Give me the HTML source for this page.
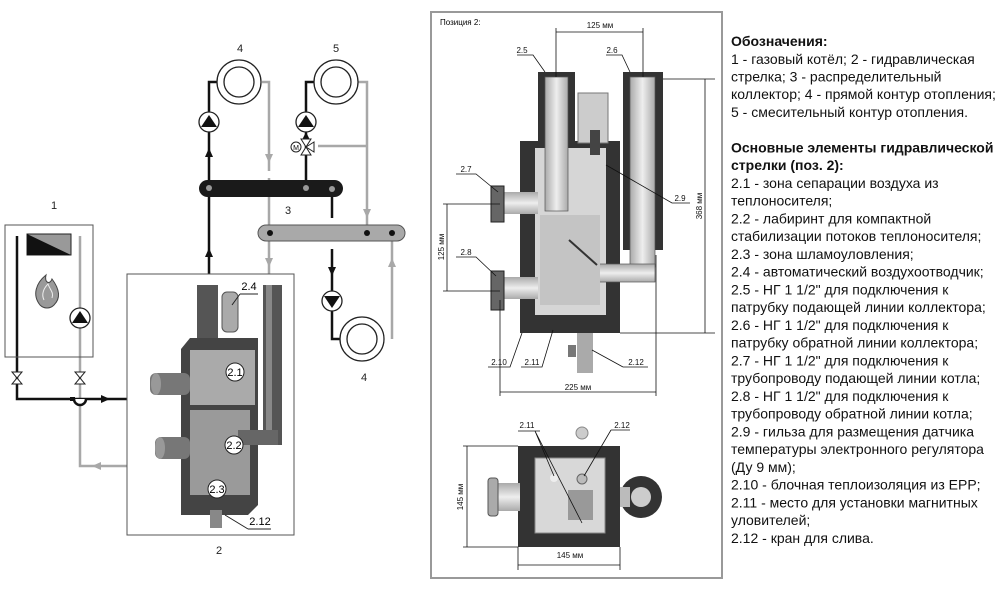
<!DOCTYPE html>
<html><head><meta charset="utf-8"><style>
html,body{margin:0;padding:0;background:#fff}
svg{display:block}
text{font-family:"Liberation Sans",sans-serif}
</style></head><body>
<svg width="1006" height="591" viewBox="0 0 1006 591" xmlns="http://www.w3.org/2000/svg">
<defs>
<linearGradient id="pg" x1="0" x2="1" y1="0" y2="0"><stop offset="0" stop-color="#aaa"/><stop offset="0.5" stop-color="#eee"/><stop offset="1" stop-color="#aaa"/></linearGradient>
<linearGradient id="pgv" x1="0" x2="0" y1="0" y2="1"><stop offset="0" stop-color="#aaa"/><stop offset="0.5" stop-color="#eee"/><stop offset="1" stop-color="#aaa"/></linearGradient>
</defs>

<!-- ========== LEFT SCHEMATIC ========== -->
<g fill="none" stroke-width="2.5">
<g stroke="#a8a8a8">
<path d="M262,82 H269 V171"/><path d="M269,178 V274"/>
<path d="M358,82 H367 V233"/><path d="M367,146 H318"/>
<path d="M392,339 V233"/>
<path d="M80,236 V466 H127"/>
</g>
<g stroke="#111">
<path d="M217,82 H209 V274"/>
<path d="M315,82 H306 V189"/>
<path d="M332,189 V218"/><path d="M332,249 V339 H340"/>
<path d="M17,236 V399 H127"/>
</g>
</g>
<g fill="#111"><path d="M209,148 l-4,9 h8z"/><path d="M209,248 l-4,9 h8z"/><path d="M306,132 l-4,8 h8z" /><path d="M332,276 l-4,-9 h8z"/><path d="M110,399 l-9,-4 v8z"/></g>
<g fill="#a8a8a8"><path d="M269,163 l-4,-9 h8z"/><path d="M269,267 l-4,-9 h8z"/><path d="M367,218 l-4,-9 h8z"/><path d="M392,258 l-4,9 h8z"/><path d="M92,466 l9,-4 v8z"/></g>
<path d="M74,399 a6,6 0 0 0 12,0" fill="#fff" stroke="#111" stroke-width="2.5"/>
<rect x="70" y="397" width="5" height="4" fill="#111"/>
<g fill="#fff" stroke="#222" stroke-width="1.3">
<circle cx="239" cy="82" r="22"/><circle cx="239" cy="82" r="15"/>
<circle cx="336" cy="82" r="22"/><circle cx="336" cy="82" r="15"/>
<circle cx="362" cy="339" r="22"/><circle cx="362" cy="339" r="15"/>
<circle cx="209" cy="122" r="10"/><circle cx="306" cy="122" r="10"/>
<circle cx="332" cy="301" r="10"/><circle cx="80" cy="318" r="10"/>
</g>
<g fill="#111"><path d="M201,127 h16 l-8,-12z"/><path d="M298,127 h16 l-8,-12z"/><path d="M324,296 h16 l-8,12z"/><path d="M72,323 h16 l-8,-12z"/></g>
<g stroke="#222" stroke-width="1" fill="#fff">
<path d="M306,147 l-5,-8 h10z"/><path d="M306,147 l-5,8 h10z"/><path d="M306,147 l8,-5 v10z"/>
<circle cx="296" cy="147" r="5"/>
</g>
<text x="296" y="150" font-size="7" text-anchor="middle">M</text>
<rect x="199" y="180" width="144" height="17" rx="8.5" fill="#1a1a1a"/>
<rect x="258" y="225" width="147" height="16" rx="8" fill="#a9a9a9" stroke="#555" stroke-width="1"/>
<g fill="#999"><circle cx="209" cy="188" r="3"/><circle cx="306" cy="188" r="3"/><circle cx="332" cy="189" r="3"/></g>
<g fill="#111"><circle cx="270" cy="233" r="3"/><circle cx="367" cy="233" r="3"/><circle cx="392" cy="233" r="3"/></g>
<rect x="5" y="225" width="88" height="132" fill="none" stroke="#555" stroke-width="1"/>
<path d="M27,234 H71 V255 H27z" fill="#999" stroke="#222"/>
<path d="M27,234 L71,255 H27z" fill="#111"/>
<path d="M40,305 c-8,-10 -4,-22 6,-30 c-2,8 4,10 6,4 c6,8 10,18 2,26 c-4,4 -10,4 -14,0z" fill="#999" stroke="#444" stroke-width="1"/>
<path d="M44,300 c-3,-6 0,-12 4,-16 c2,6 6,8 4,14" fill="none" stroke="#eee" stroke-width="1"/>
<g fill="#fff" stroke="#222" stroke-width="1"><path d="M12,372 h10 l-10,12 h10z"/><path d="M75,372 h10 l-10,12 h10z"/></g>
<rect x="127" y="274" width="167" height="261" fill="#fff" stroke="#555" stroke-width="1"/>
<g>
<rect x="197" y="285" width="21" height="70" fill="#555"/>
<rect x="263" y="285" width="19" height="160" fill="#555"/>
<rect x="266" y="285" width="6" height="160" fill="#888"/>
<rect x="222" y="292" width="16" height="40" rx="5" fill="#aaa" stroke="#555"/>
<path d="M181,349 L190,338 H258 V505 L248,515 H181z" fill="#444"/>
<rect x="190" y="350" width="65" height="55" fill="#aaa"/>
<rect x="190" y="410" width="60" height="85" fill="#9a9a9a"/>
<rect x="150" y="373" width="40" height="22" rx="6" fill="#777"/>
<ellipse cx="156" cy="384" rx="5" ry="11" fill="#999"/>
<rect x="155" y="437" width="35" height="22" rx="6" fill="#777"/>
<ellipse cx="160" cy="448" rx="5" ry="11" fill="#999"/>
<rect x="238" y="430" width="40" height="15" fill="#666"/>
<rect x="210" y="510" width="12" height="18" fill="#888"/>
</g>
<g font-size="11" text-anchor="middle">
<circle cx="235" cy="372" r="9" fill="#fff" stroke="#222"/><text x="235" y="376">2.1</text>
<circle cx="234" cy="445" r="9" fill="#fff" stroke="#222"/><text x="234" y="449">2.2</text>
<circle cx="217" cy="489" r="9" fill="#fff" stroke="#222"/><text x="217" y="493">2.3</text>
<text x="249" y="290">2.4</text><path d="M240,294 H258 M240,294 L232,305" stroke="#222" fill="none"/>
<text x="260" y="525">2.12</text><path d="M248,529 H271 M248,529 L225,515" stroke="#222" fill="none"/>
</g>
<g font-size="11" text-anchor="middle" fill="#222">
<text x="240" y="52">4</text><text x="336" y="52">5</text><text x="288" y="214">3</text>
<text x="54" y="209">1</text><text x="219" y="554">2</text><text x="364" y="381">4</text>
</g>

<!-- ========== MIDDLE DRAWING ========== -->
<rect x="431" y="12" width="291" height="566" fill="#fff" stroke="#999" stroke-width="2"/>
<text x="440" y="25" font-size="8">Позиция 2:</text>
<rect x="520" y="141" width="100" height="192" fill="#333"/>
<rect x="535" y="148" width="71" height="167" fill="#d6d6d6"/>
<rect x="538" y="72" width="37" height="75" fill="#333"/>
<rect x="623" y="72" width="40" height="178" fill="#333"/>
<rect x="578" y="93" width="30" height="50" fill="#ccc" stroke="#777"/>
<rect x="590" y="130" width="10" height="25" fill="#444"/>
<rect x="545" y="77" width="23" height="134" fill="url(#pg)" stroke="#555" stroke-width="0.7"/>
<rect x="630" y="77" width="25" height="190" fill="url(#pg)" stroke="#555" stroke-width="0.7"/>
<rect x="596" y="264" width="59" height="18" fill="url(#pgv)" stroke="#555" stroke-width="0.7"/>
<rect x="540" y="215" width="60" height="90" fill="#c4c4c4"/>
<rect x="500" y="192" width="38" height="22" fill="url(#pgv)"/>
<rect x="500" y="277" width="38" height="22" fill="url(#pgv)"/>
<rect x="491" y="186" width="13" height="36" fill="#666" stroke="#222"/>
<rect x="491" y="271" width="13" height="39" fill="#666" stroke="#222"/>
<rect x="577" y="333" width="16" height="40" fill="#aaa"/>
<rect x="568" y="345" width="8" height="12" fill="#777"/>
<path d="M569,240 L597,265" stroke="#333" stroke-width="2"/>
<g stroke="#111" stroke-width="0.8" fill="none">
<path d="M556,32 H643 M556,28 V77 M643,28 V77"/>
<path d="M663,79 H715 M705,79 V333 M620,333 H715"/>
<path d="M447,204 V291 M443,204 H500 M443,291 H500"/>
<path d="M500,392 H656 M500,300 V396 M656,255 V396"/>
<path d="M517,55 H533 L545,72"/><path d="M606,55 H622 L630,72"/>
<path d="M456,174 H476 L498,192"/><path d="M456,257 H476 L496,276"/>
<path d="M690,203 H672 L606,165"/>
<path d="M488,367 H510 L522,333"/><path d="M521,367 H542 L553,330"/><path d="M623,367 H648 M623,367 L592,350"/>
</g>
<g font-size="8" text-anchor="middle" fill="#111">
<text x="600" y="28">125 мм</text>
<text x="522" y="53">2.5</text><text x="612" y="53">2.6</text>
<text x="466" y="172">2.7</text><text x="466" y="255">2.8</text><text x="680" y="201">2.9</text>
<text x="499" y="365">2.10</text><text x="532" y="365">2.11</text><text x="636" y="365">2.12</text>
<text x="578" y="390">225 мм</text>
<text transform="translate(702,206) rotate(-90)">368 мм</text>
<text transform="translate(444,247) rotate(-90)">125 мм</text>
</g>
<rect x="518" y="446" width="102" height="101" fill="#333"/>
<rect x="535" y="458" width="70" height="75" fill="#d8d8d8" stroke="#888"/>
<rect x="568" y="490" width="25" height="30" fill="#999"/>
<circle cx="554" cy="478" r="4" fill="#eee"/><circle cx="582" cy="479" r="5" fill="#bbb" stroke="#666"/>
<rect x="496" y="483" width="24" height="28" fill="url(#pgv)"/>
<rect x="488" y="478" width="10" height="38" rx="3" fill="#aaa" stroke="#555"/>
<circle cx="641" cy="497" r="21" fill="#333"/><circle cx="641" cy="497" r="10" fill="#ccc"/>
<rect x="620" y="487" width="10" height="20" fill="#bbb"/>
<circle cx="582" cy="433" r="6" fill="#ccc" stroke="#888"/>
<g stroke="#111" stroke-width="0.8" fill="none">
<path d="M467,446 V547 M463,446 H518 M463,547 H518"/>
<path d="M518,565 H620 M518,547 V570 M620,547 V570"/>
<path d="M518,431 H540 M535,431 L554,476 M535,431 L582,523"/>
<path d="M611,430 H630 M611,430 L584,476"/>
</g>
<g font-size="8" text-anchor="middle" fill="#111">
<text x="527" y="428">2.11</text><text x="622" y="428">2.12</text>
<text x="570" y="558">145 мм</text>
<text transform="translate(463,497) rotate(-90)">145 мм</text>
</g>

<!-- ========== RIGHT TEXT ========== -->
<g font-size="14" fill="#111">
<text x="731" y="46" font-weight="bold">Обозначения:</text>
<text x="731" y="64">1 - газовый котёл; 2 - гидравлическая</text>
<text x="731" y="81.5">стрелка; 3 - распределительный</text>
<text x="731" y="99">коллектор; 4 - прямой контур отопления;</text>
<text x="731" y="117">5 - смесительный контур отопления.</text>
<text x="731" y="152.5" font-weight="bold">Основные элементы гидравлической</text>
<text x="731" y="170" font-weight="bold">стрелки (поз. 2):</text>
<text x="731" y="188">2.1 - зона сепарации воздуха из</text>
<text x="731" y="205.5">теплоносителя;</text>
<text x="731" y="223.5">2.2 - лабиринт для компактной</text>
<text x="731" y="241">стабилизации потоков теплоносителя;</text>
<text x="731" y="259">2.3 - зона шламоуловления;</text>
<text x="731" y="276.5">2.4 - автоматический воздухоотводчик;</text>
<text x="731" y="294.5">2.5 - НГ 1 1/2" для подключения к</text>
<text x="731" y="312">патрубку подающей линии коллектора;</text>
<text x="731" y="330">2.6 - НГ 1 1/2" для подключения к</text>
<text x="731" y="347.5">патрубку обратной линии коллектора;</text>
<text x="731" y="365.5">2.7 - НГ 1 1/2" для подключения к</text>
<text x="731" y="383">трубопроводу подающей линии котла;</text>
<text x="731" y="401">2.8 - НГ 1 1/2" для подключения к</text>
<text x="731" y="418.5">трубопроводу обратной линии котла;</text>
<text x="731" y="436.5">2.9 - гильза для размещения датчика</text>
<text x="731" y="454">температуры электронного регулятора</text>
<text x="731" y="472">(Ду 9 мм);</text>
<text x="731" y="489.5">2.10 - блочная теплоизоляция из EPP;</text>
<text x="731" y="507.5">2.11 - место для установки магнитных</text>
<text x="731" y="525">уловителей;</text>
<text x="731" y="543">2.12 - кран для слива.</text>
</g>
</svg>
</body></html>
